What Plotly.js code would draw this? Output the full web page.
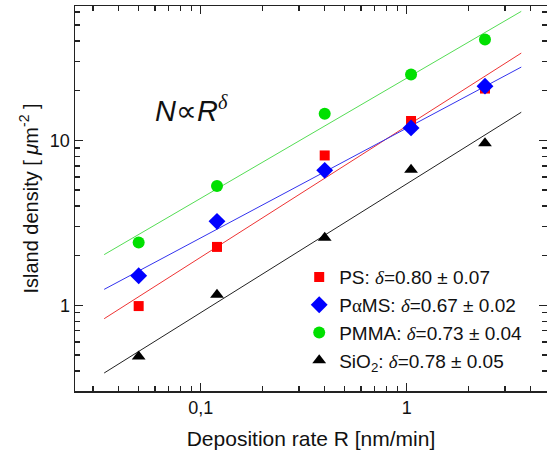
<!DOCTYPE html>
<html><head><meta charset="utf-8">
<script src="https://cdn.plot.ly/plotly-3.0.1.min.js"></script>
<style>html,body{margin:0;padding:0;background:#fff;}</style>
</head><body>
<div id="chart" style="width:547px;height:457px;"></div>
<script>
// Deposition rate R [nm/min]
const rate = [0.05, 0.12, 0.40, 1.05, 2.40];
// Island density [µm^-2]
const psDensity    = [0.99, 2.26, 8.1, 13.1, 20.6];
const pamsDensity  = [1.51, 3.23, 6.58, 11.9, 21.3];
const pmmaDensity  = [2.40, 5.29, 14.5, 25.1, 40.9];
const sio2Density  = [0.49, 1.16, 2.57, 6.64, 9.6];
// power-law fit lines (end points)
const fitRate = [0.034, 3.6];
const psFit   = [0.83, 33.8];
const pamsFit = [1.25, 27.8];
const pmmaFit = [2.03, 60.5];
const sio2Fit = [0.389, 14.8];
const seriesNames = [
  'PS: <span style="font-family:Liberation Serif"><i>δ</i></span>=0.80 ± 0.07',
  'P<span style="font-family:Liberation Serif">α</span>MS: <span style="font-family:Liberation Serif"><i>δ</i></span>=0.67 ± 0.02',
  'PMMA: <span style="font-family:Liberation Serif"><i>δ</i></span>=0.73 ± 0.04',
  'SiO<sub>2</sub>: <span style="font-family:Liberation Serif"><i>δ</i></span>=0.78 ± 0.05'
];
const xTickVals = [0.1, 1];
const xTickText = ['0,1', '1'];
const xMinorVals = [0.03, 0.04, 0.05, 0.06, 0.07, 0.08, 0.09, 0.2, 0.3, 0.4, 0.5, 0.6, 0.7, 0.8, 0.9, 2, 3, 4];
const yTickVals = [1, 10];
const yTickText = ['1', '10'];
const yMinorVals = [0.4, 0.5, 0.6, 0.7, 0.8, 0.9, 2, 3, 4, 5, 6, 7, 8, 9, 20, 30, 40, 50, 60];

const lineCol = ['#ee3333', '#3333ee', '#55dd55', '#222222'];
const markCol = ['#ff0000', '#0000ff', '#00e000', '#000000'];
const symbols = ['square', 'diamond', 'circle', 'triangle-up'];
const sizes = [10, 13, 12, 12];
const dens = [psDensity, pamsDensity, pmmaDensity, sio2Density];
const fits = [psFit, pamsFit, pmmaFit, sio2Fit];

const traces = [];
for (let i = 0; i < 4; i++) {
  traces.push({x: fitRate, y: fits[i], mode: 'lines', showlegend: false,
    line: {color: lineCol[i], width: 1}, hoverinfo: 'skip'});
}
for (let i = 0; i < 4; i++) {
  traces.push({x: rate, y: dens[i], mode: 'markers', name: seriesNames[i],
    marker: {color: markCol[i], symbol: symbols[i], size: sizes[i]}});
}

const axisCommon = {
  type: 'log', showline: true, mirror: 'ticks', linecolor: '#222', linewidth: 1.5,
  ticks: 'inside', ticklen: 8, tickwidth: 1.4, tickcolor: '#222',
  showgrid: false, zeroline: false,
  tickfont: {family: 'Liberation Sans, Arial, sans-serif', size: 18, color: '#111'}
};
const minorCommon = {ticks: 'inside', ticklen: 5, tickwidth: 1.2, tickcolor: '#222', showgrid: false, tickmode: 'array'};

const layout = {
  width: 547, height: 457,
  margin: {l: 75, r: 0, t: 6, b: 66},
  paper_bgcolor: '#fff', plot_bgcolor: '#fff',
  font: {family: 'Liberation Sans, Arial, sans-serif', color: '#111'},
  xaxis: Object.assign({}, axisCommon, {
    range: [Math.log10(0.02454), Math.log10(4.8)],
    tickmode: 'array', tickvals: xTickVals, ticktext: xTickText,
    minor: Object.assign({}, minorCommon, {tickvals: xMinorVals}),
    title: {text: 'Deposition rate R [nm/min]', font: {size: 21}, standoff: 14}
  }),
  yaxis: Object.assign({}, axisCommon, {
    range: [Math.log10(0.3026), Math.log10(65.2)],
    tickmode: 'array', tickvals: yTickVals, ticktext: yTickText,
    minor: Object.assign({}, minorCommon, {tickvals: yMinorVals}),
    title: {text: 'Island density [ <i>μ</i>m<sup>-2</sup> ]', font: {size: 20}, standoff: 6}
  }),
  legend: {x: 0.475, y: 0.345, xanchor: 'left', yanchor: 'top',
    bgcolor: 'rgba(0,0,0,0)', font: {size: 19, family: 'Liberation Sans, Arial, sans-serif', color: '#111'},
    tracegroupgap: 0, itemwidth: 30},
  annotations: [{
    text: '<i>N</i>∝<i>R</i><sup><span style="font-family:Liberation Serif"><i>δ</i></span></sup>',
    xref: 'paper', yref: 'paper', x: 0.165, y: 0.785, xanchor: 'left', yanchor: 'top', showarrow: false,
    font: {size: 29, family: 'Liberation Sans, Arial, sans-serif', color: '#111'}
  }],
  showlegend: true
};

Plotly.newPlot('chart', traces, layout, {displayModeBar: false, staticPlot: true});
</script>
</body></html>
